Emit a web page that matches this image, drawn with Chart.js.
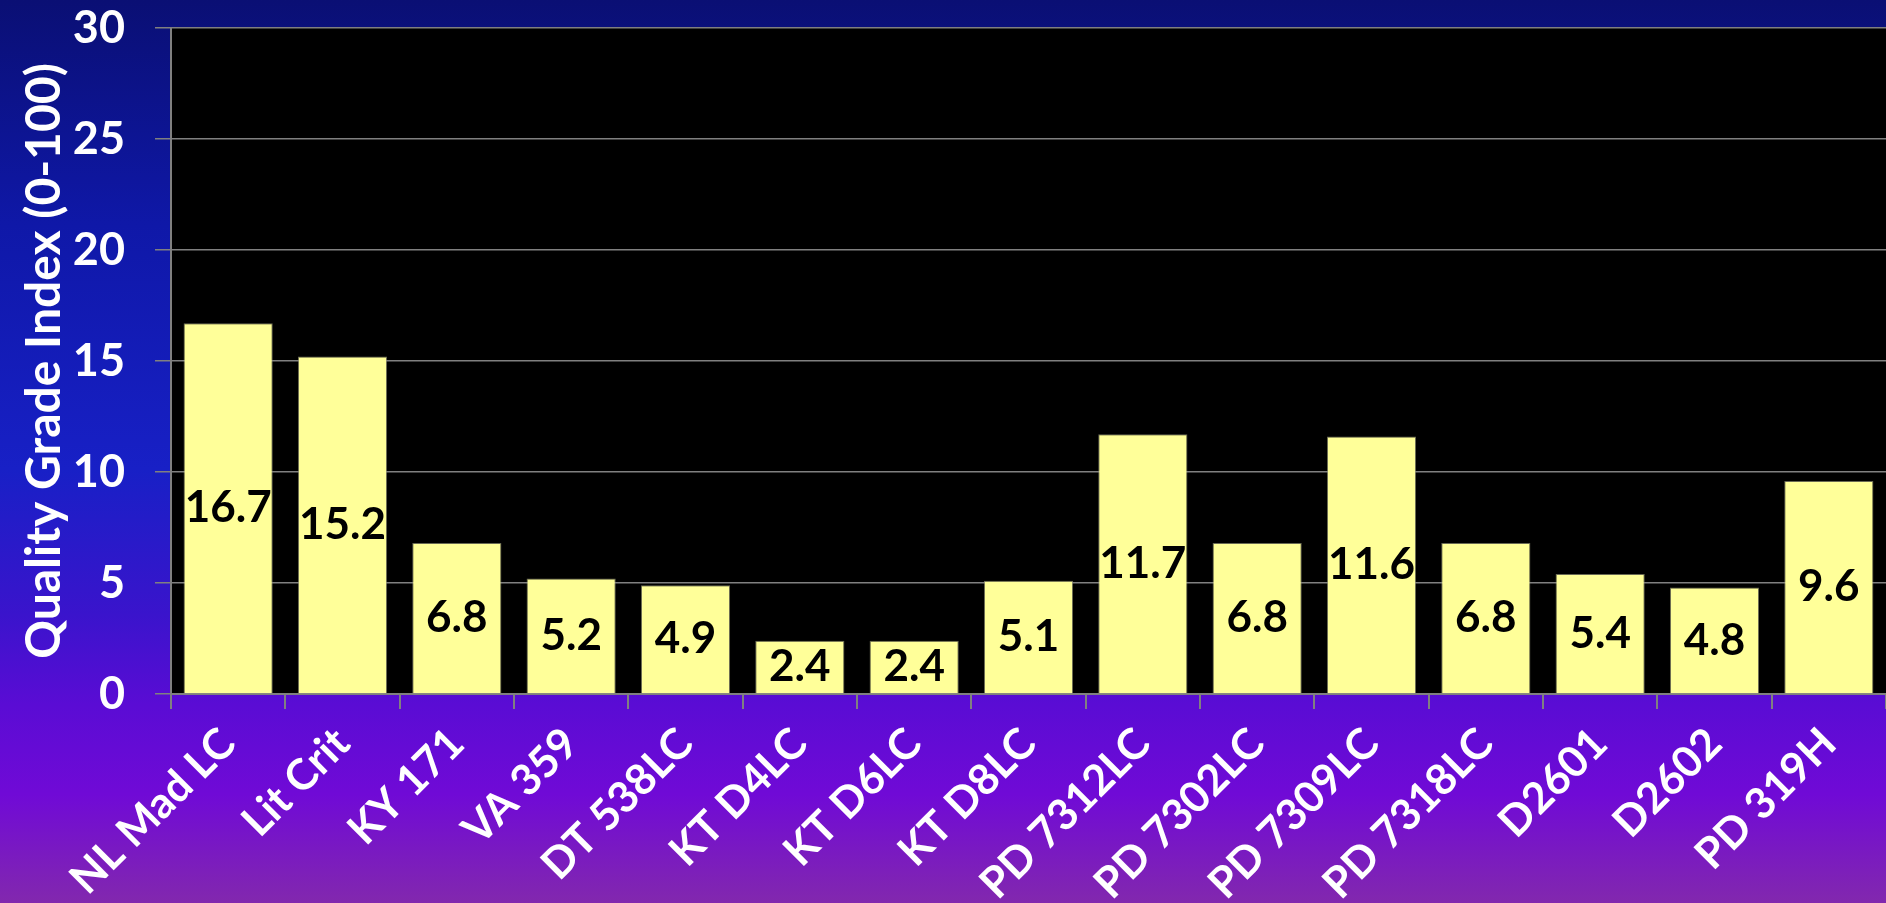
<!DOCTYPE html>
<html>
<head>
<meta charset="utf-8">
<script src="https://cdn.jsdelivr.net/npm/chart.js@4.4.1/dist/chart.umd.min.js"></script>
<style>
  html, body { margin: 0; padding: 0; overflow: hidden; }
  body {
    width: 1886px; height: 903px;
    background: linear-gradient(to bottom, #0a0f74 0%, #0f18a8 25%, #1820c6 52%, #3a14cc 68%, #5a0cd4 78%, #700ad6 88%, #8228ae 100%);
  }
  #wrap { position: relative; width: 1886px; height: 903px; }
</style>
</head>
<body>
<div id="wrap"><canvas id="chart1"></canvas></div>
<script>
  // data
  const categories = ['NL Mad LC', 'Lit Crit', 'KY 171', 'VA 359', 'DT 538LC', 'KT D4LC', 'KT D6LC', 'KT D8LC',
                      'PD 7312LC', 'PD 7302LC', 'PD 7309LC', 'PD 7318LC', 'D2601', 'D2602', 'PD 319H'];
  const gradeValues = [16.7, 15.2, 6.8, 5.2, 4.9, 2.4, 2.4, 5.1, 11.7, 6.8, 11.6, 6.8, 5.4, 4.8, 9.6];
  const yTicks = [0, 5, 10, 15, 20, 25, 30];
  const yTitle = 'Quality Grade Index (0-100)';

  const fontFam = 'Lato, Calibri, "Open Sans", sans-serif';
  const gridGray = '#808080';

  // black plot area
  const plotBg = {
    id: 'plotBg',
    beforeDraw(chart) {
      const { ctx, chartArea } = chart;
      ctx.save();
      ctx.fillStyle = '#000';
      ctx.fillRect(chartArea.left, chartArea.top, chartArea.right - chartArea.left, chartArea.bottom - chartArea.top);
      ctx.restore();
    }
  };

  // value labels in the middle of each bar
  const barLabels = {
    id: 'barLabels',
    afterDatasetsDraw(chart) {
      const { ctx } = chart;
      const meta = chart.getDatasetMeta(0);
      ctx.save();
      ctx.font = 'bold 44px ' + fontFam;
      ctx.fillStyle = '#000';
      ctx.textAlign = 'center';
      ctx.textBaseline = 'middle';
      meta.data.forEach(function(bar, i) {
        const v = chart.data.datasets[0].data[i];
        ctx.fillText(v.toFixed(1), bar.x, (bar.y + bar.base) / 2);
      });
      ctx.restore();
    }
  };

  document.addEventListener('DOMContentLoaded', function() {
    const ctx1 = document.getElementById('chart1');
    new Chart(ctx1, {
      type: 'bar',
      data: {
        labels: categories,
        datasets: [{
          label: yTitle,
          data: gradeValues,
          backgroundColor: '#ffff99',
          borderColor: 'rgba(150,150,120,0.7)',
          borderWidth: 1,
          barPercentage: 0.78,
          categoryPercentage: 1.0
        }]
      },
      options: {
        responsive: true,
        maintainAspectRatio: false,
        animation: false,
        layout: { padding: { top: 28, right: 0, left: 0, bottom: 0 } },
        plugins: {
          legend: { display: false },
          tooltip: { enabled: false }
        },
        scales: {
          y: {
            min: 0,
            max: 30,
            afterBuildTicks(scale) { scale.ticks = yTicks.map(v => ({ value: v })); },
            afterFit(scale) { scale.width = 171; scale.paddingTop = 0; scale.paddingBottom = 0; },
            border: { display: true, color: gridGray, width: 2 },
            grid: { color: gridGray, lineWidth: 1.5, drawTicks: true, tickLength: 16 },
            ticks: {
              color: '#fff',
              padding: 30,
              font: { family: fontFam, size: 45, weight: 'bold' }
            },
            title: {
              display: true,
              text: yTitle,
              color: '#fff',
              padding: { top: 16, bottom: 0 },
              font: { family: fontFam, size: 48, weight: 'bold' }
            }
          },
          x: {
            afterFit(scale) { scale.height = 209; scale.paddingLeft = 0; scale.paddingRight = 0; },
            border: { display: true, color: gridGray, width: 2 },
            grid: { offset: true, drawOnChartArea: false, drawTicks: true, tickLength: 15, color: gridGray, lineWidth: 2 },
            ticks: {
              color: '#fff',
              autoSkip: false,
              minRotation: 45,
              maxRotation: 45,
              padding: 9,
              font: { family: fontFam, size: 43, weight: 'bold' }
            }
          }
        }
      },
      plugins: [plotBg, barLabels]
    });
  });
</script>
</body>
</html>
